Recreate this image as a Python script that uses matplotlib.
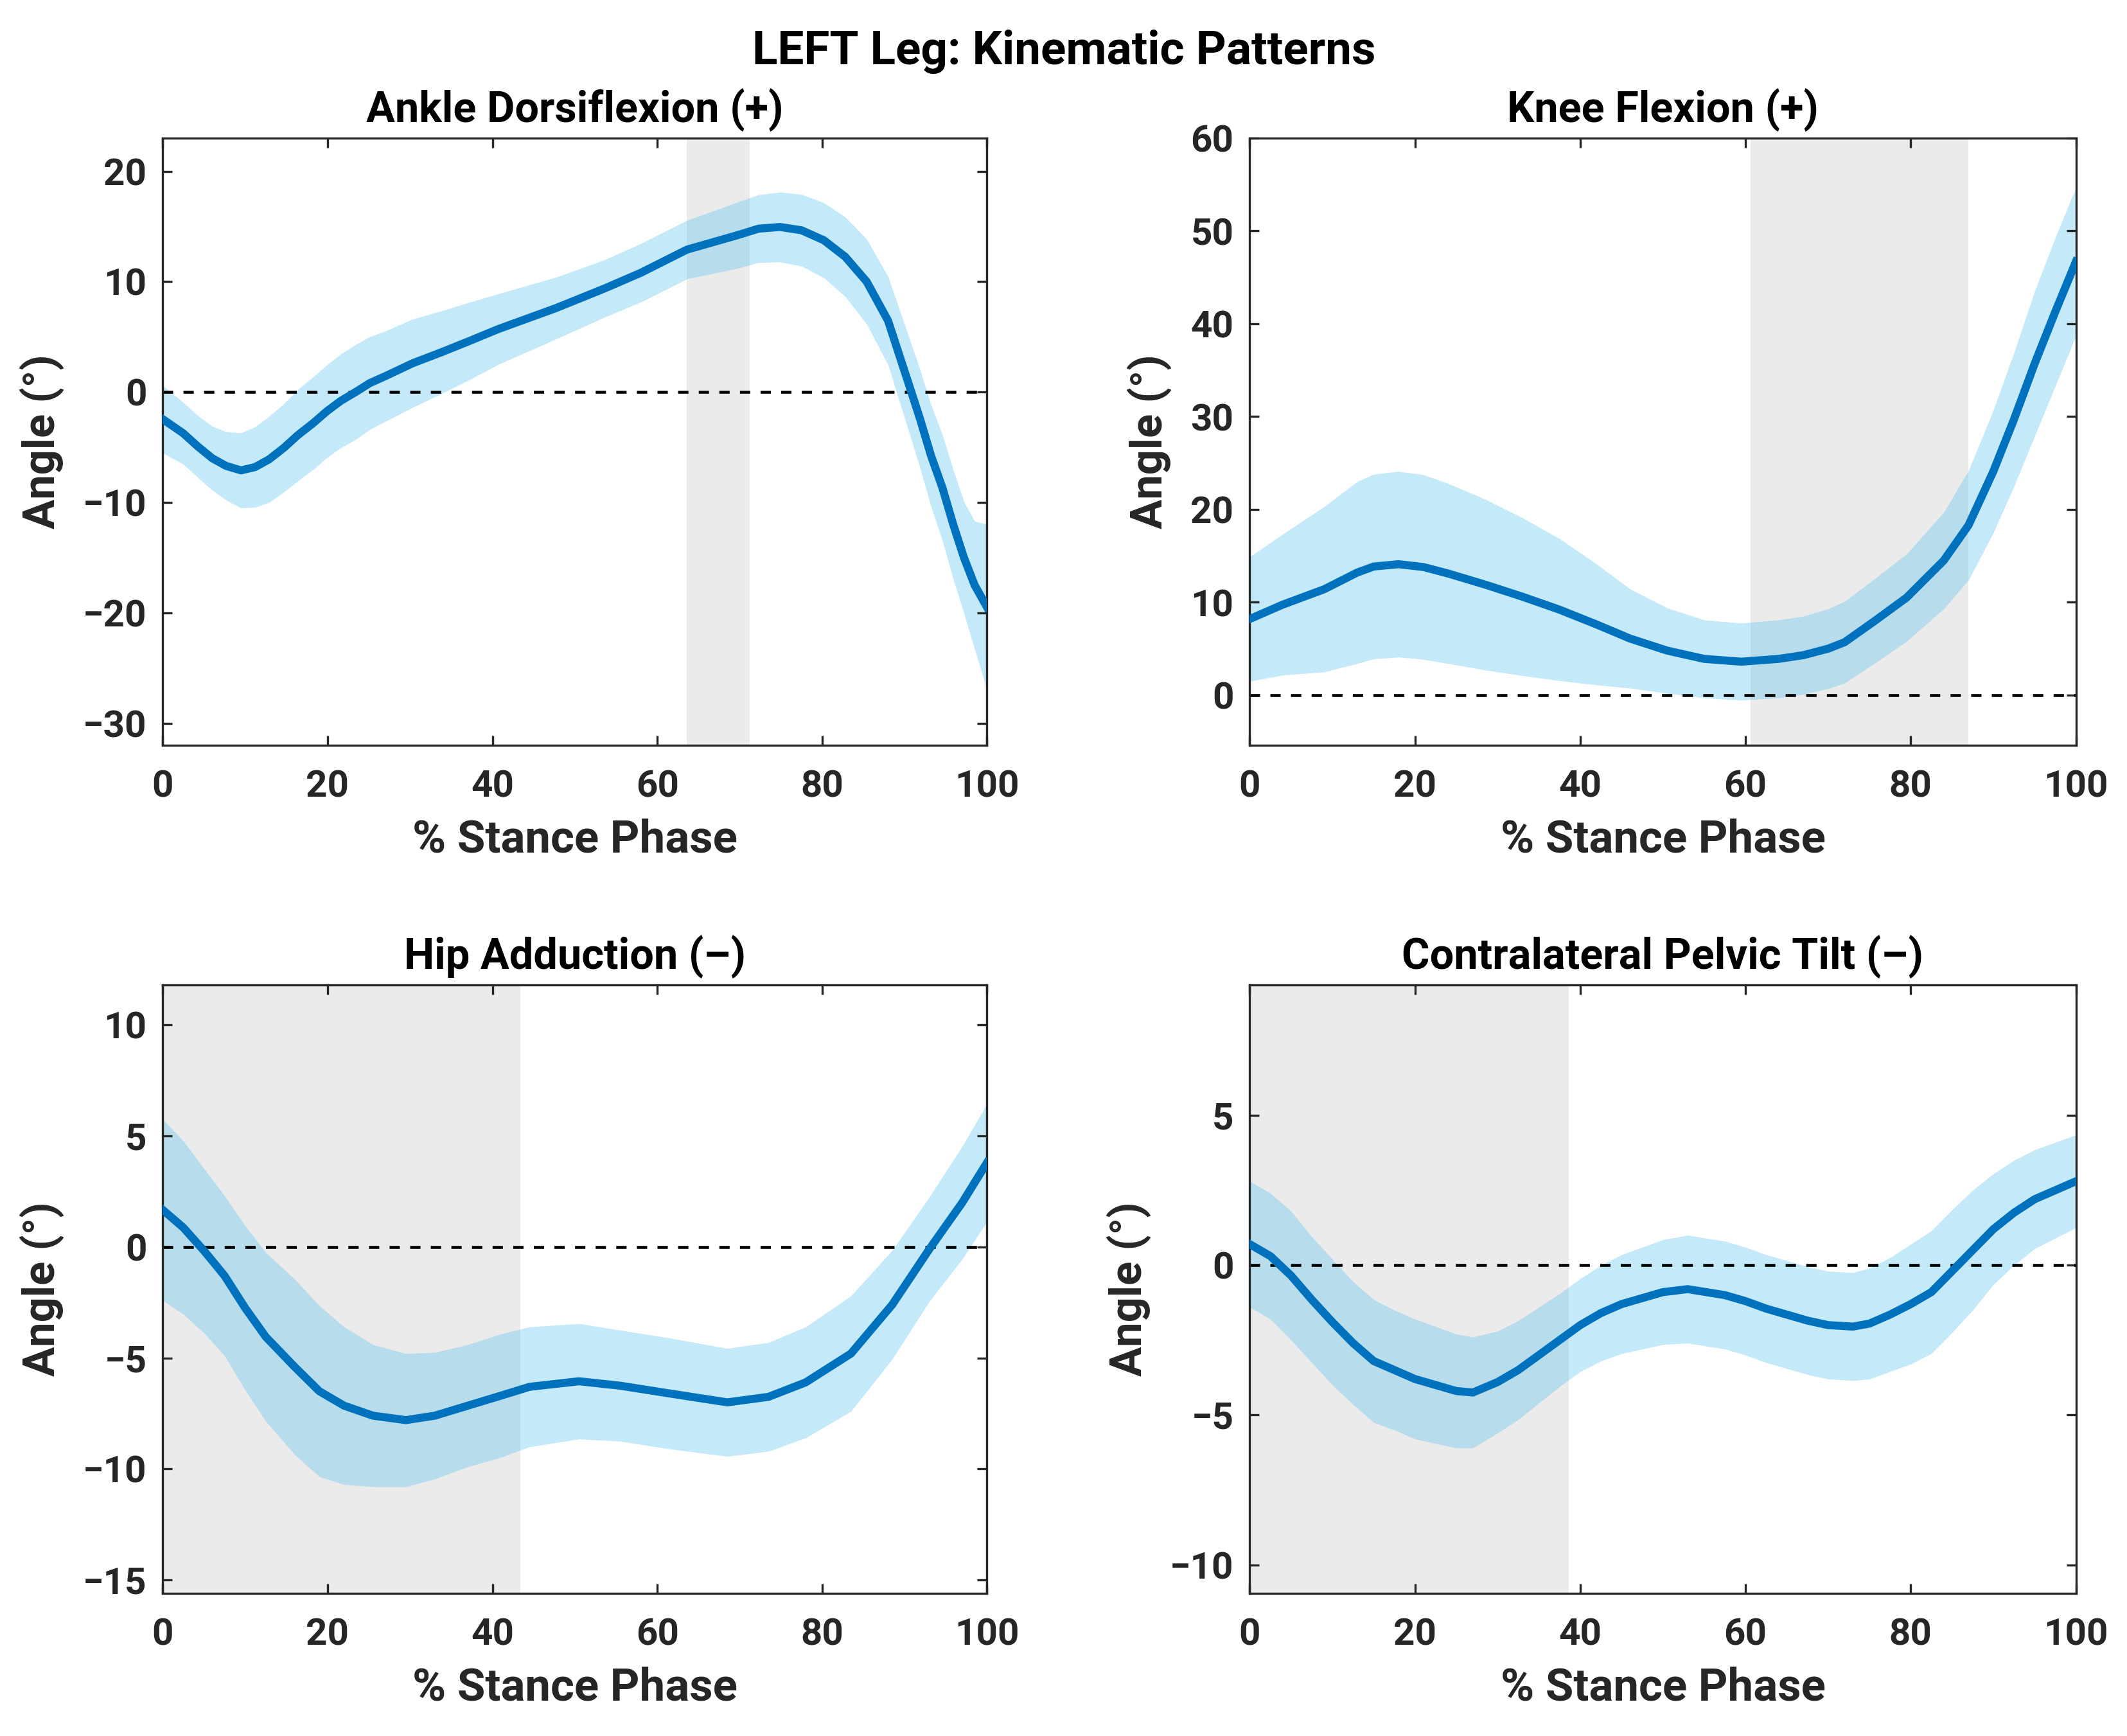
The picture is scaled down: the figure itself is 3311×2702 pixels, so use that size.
import numpy as np
import matplotlib.pyplot as plt

plt.rcParams['font.family'] = ['Roboto', 'DejaVu Sans']
plt.rcParams['font.weight'] = 'bold'

# Ankle dorsiflexion (+): mean and SD
ankle_x = [0, 2.5, 4.2, 6.0, 7.7, 9.5, 11.2, 12.9, 14.7, 16.4, 18.2, 19.9, 21.6, 23.4, 25.1, 26.9,
           30.3, 33.8, 37.3, 40.7, 44.2, 47.7, 53.5, 58.0, 63.6, 69.7, 72.3, 74.9, 77.5, 80.2,
           82.8, 85.4, 88.0, 90.6, 91.9, 93.2, 94.6, 95.9, 97.2, 98.5, 100]
ankle_mean = [-2.46, -3.75, -4.9, -6.0, -6.7, -7.1, -6.8, -6.1, -5.05, -3.9, -2.85, -1.75, -0.8, 0.0,
              0.8, 1.4, 2.6, 3.6, 4.65, 5.7, 6.65, 7.6, 9.35, 10.8, 12.9, 14.2, 14.8, 14.95, 14.65,
              13.75, 12.25, 10.0, 6.45, 0.5, -2.5, -5.75, -8.7, -12.0, -15.0, -17.5, -19.5]
ankle_sd = [3.05, 2.8, 2.8, 2.9, 3.1, 3.4, 3.65, 3.9, 4.0, 4.15, 4.2, 4.2, 4.25, 4.3, 4.2, 4.1,
            4.0, 3.75, 3.5, 3.2, 3.0, 2.8, 2.6, 2.65, 2.65, 3.0, 3.07, 3.17, 3.25, 3.4,
            3.6, 3.85, 4.0, 4.3, 4.45, 4.6, 4.8, 4.95, 5.05, 5.8, 7.5]

# Knee flexion (+)
knee_x = [0, 4, 9, 13, 15, 18, 21, 24, 28.5, 33, 37.5, 42, 46, 50.5, 55, 59.5, 64, 67, 70, 72,
          75.5, 79.5, 84, 87, 90, 92.5, 95, 97.5, 100]
knee_mean = [8.2, 9.75, 11.4, 13.2, 13.85, 14.1, 13.8, 13.1, 11.9, 10.6, 9.2, 7.6, 6.1, 4.8, 3.9,
             3.6, 3.9, 4.3, 5.0, 5.7, 7.9, 10.5, 14.5, 18.3, 24.1, 29.7, 35.7, 41.3, 46.7]
knee_sd = [6.7, 7.6, 8.9, 9.8, 9.95, 10.0, 9.95, 9.7, 9.2, 8.5, 7.65, 6.5, 5.35, 4.6, 4.2,
           4.15, 4.2, 4.2, 4.3, 4.4, 4.55, 4.7, 5.2, 5.9, 6.6, 7.2, 7.8, 8.0, 8.0]

# Hip adduction (-)
hip_x = [0, 2.5, 5, 7.5, 10, 12.5, 16, 19, 22, 25.5, 29.5, 33, 37, 41, 44.5, 50.5, 55.5, 61.5,
         68.5, 73.5, 78, 83.5, 88.5, 93, 97, 100]
hip_mean = [1.67, 0.87, -0.17, -1.3, -2.75, -4.05, -5.4, -6.5, -7.15, -7.6, -7.8, -7.6, -7.15,
            -6.7, -6.3, -6.05, -6.25, -6.6, -7.0, -6.75, -6.1, -4.8, -2.6, -0.1, 2.0, 3.8]
hip_sd = [4.08, 3.9, 3.7, 3.6, 3.7, 3.8, 3.95, 3.85, 3.55, 3.2, 3.0, 2.85, 2.75, 2.78, 2.7,
          2.6, 2.5, 2.5, 2.43, 2.45, 2.5, 2.6, 2.45, 2.35, 2.54, 2.65]

# Contralateral pelvic tilt (-)
pelvis_x = [0, 2.5, 5, 7.5, 10, 12.5, 15, 17.5, 20, 22.5, 25, 27, 30, 32.5, 35, 37.5, 40, 42.5,
            45, 47.5, 50, 53, 57.5, 60, 62.5, 65, 67.5, 70, 73, 75, 77.5, 80, 82.5, 85, 87.5,
            90, 92.5, 95, 97.5, 100]
pelvis_mean = [0.7, 0.3, -0.35, -1.15, -1.9, -2.6, -3.2, -3.5, -3.8, -4.0, -4.2, -4.25, -3.9, -3.5,
               -3.0, -2.5, -2.0, -1.6, -1.3, -1.1, -0.9, -0.8, -1.0, -1.2, -1.45, -1.65, -1.85,
               -2.0, -2.05, -1.95, -1.65, -1.3, -0.9, -0.2, 0.5, 1.2, 1.75, 2.2, 2.5, 2.8]
pelvis_sd = [2.1, 2.1, 2.15, 2.1, 2.1, 2.05, 2.05, 2.0, 2.0, 1.95, 1.9, 1.85, 1.7, 1.65, 1.6, 1.55,
             1.55, 1.6, 1.65, 1.7, 1.75, 1.8, 1.8, 1.8, 1.8, 1.8, 1.8, 1.8, 1.8, 1.85, 1.9, 2.0,
             2.05, 2.05, 2.0, 1.85, 1.75, 1.65, 1.6, 1.55]

titles = ['Ankle Dorsiflexion (+)', 'Knee Flexion (+)', 'Hip Adduction (\u2013)',
          'Contralateral Pelvic Tilt (\u2013)']
spans = [(63.6, 71.2), (60.6, 87.0), (0, 43.4), (0, 38.6)]
ylims = [(-32, 23), (-5.4, 60), (-15.6, 11.8), (-10.95, 9.35)]
yticks = [np.arange(-30, 21, 10), np.arange(0, 61, 10), np.arange(-15, 11, 5), np.arange(-10, 6, 5)]

panels = [(ankle_x, ankle_mean, ankle_sd), (knee_x, knee_mean, knee_sd),
          (hip_x, hip_mean, hip_sd), (pelvis_x, pelvis_mean, pelvis_sd)]

# axes boxes [left, bottom, width, height]
boxes = [[0.0765, 0.5707, 0.3874, 0.3497], [0.5874, 0.5707, 0.3883, 0.3497],
         [0.0765, 0.0822, 0.3874, 0.3504], [0.5874, 0.0822, 0.3883, 0.3504]]

fig = plt.figure(figsize=(11.04, 9.007), dpi=300)

for i, (x, m, s) in enumerate(panels):
    ax = fig.add_axes(boxes[i])
    x = np.array(x)
    m = np.array(m)
    s = np.array(s)
    ax.axvspan(spans[i][0], spans[i][1], color='#EBEBEB', lw=0, zorder=0)
    ax.fill_between(x, m - s, m + s, color='#4DBEEE', alpha=0.33, lw=0, zorder=1)
    ax.axhline(0, color='black', ls='--', lw=1.1, dashes=(3.5, 3.5), zorder=2)
    ax.plot(x, m, color='#0072BD', lw=3.0, zorder=3, solid_joinstyle='round')
    ax.set_xlim(0, 100)
    ax.set_ylim(*ylims[i])
    ax.set_xticks(np.arange(0, 101, 20))
    ax.set_yticks(yticks[i])
    ax.set_yticklabels([str(v).replace('-', '\u2212') for v in yticks[i]])
    ax.tick_params(direction='in', top=True, right=True, length=3.5, width=0.8,
                   labelsize=14, color='#262626', labelcolor='#262626')
    ax.tick_params(axis='x', pad=9)
    ax.tick_params(axis='y', pad=6)
    for lab in ax.get_xticklabels() + ax.get_yticklabels():
        lab.set_fontweight('bold')
    for sp in ax.spines.values():
        sp.set_color('#262626')
        sp.set_linewidth(0.8)
    ax.set_title(titles[i], fontsize=16, fontweight='bold', pad=6)
    ax.set_xlabel('% Stance Phase', fontsize=17, fontweight='bold', color='#262626', labelpad=5)
    ax.set_ylabel('Angle (\u00b0)', fontsize=16.5, fontweight='bold', color='#262626', labelpad=7)

fig.suptitle('LEFT Leg: Kinematic Patterns', fontsize=17.5, fontweight='bold', y=0.983)

fig.savefig('out.png', dpi=300)
